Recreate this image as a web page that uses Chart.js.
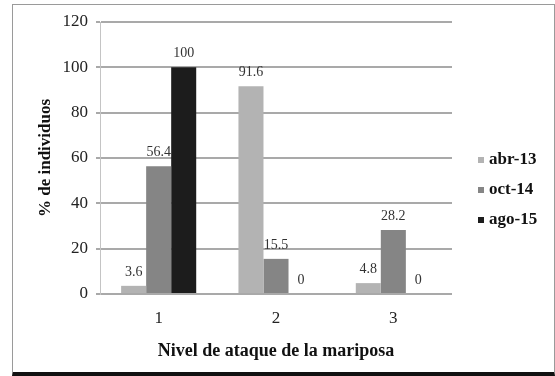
<!DOCTYPE html>
<html>
<head>
<meta charset="utf-8">
<script src="https://cdn.jsdelivr.net/npm/chart.js@4"></script>
<style>
  body { margin: 0; background: #fff; }
  .frame {
    position: absolute; left: 12px; top: 4px; width: 541px; height: 367px;
    border: 1px solid #9a9a9a; border-bottom: 4px solid #111;
  }
  #myChart { position: absolute; left: 0; top: 0; }
</style>
</head>
<body>
<div class="frame"></div>
<canvas id="myChart" width="555" height="376"></canvas>
<script>
const levels = ['1', '2', '3'];
const seriesNames = ['abr-13', 'oct-14', 'ago-15'];
const abr13 = [3.6, 91.6, 4.8];
const oct14 = [56.4, 15.5, 28.2];
const ago15 = [100, 0, 0];
const seriesColors = ['#b3b3b3', '#858585', '#1c1c1c'];
const yTicks = [0, 20, 40, 60, 80, 100, 120];

const serif = "'Liberation Serif', 'Times New Roman', serif";

// value printed above each bar
const valueLabels = {
  id: 'valueLabels',
  afterDatasetsDraw(chart) {
    const ctx = chart.ctx;
    ctx.save();
    ctx.font = '14px ' + serif;
    ctx.fillStyle = '#333';
    ctx.textAlign = 'center';
    ctx.textBaseline = 'bottom';
    chart.data.datasets.forEach((ds, i) => {
      chart.getDatasetMeta(i).data.forEach((bar, j) => {
        ctx.fillText(String(ds.data[j]), bar.x, bar.y - 7);
      });
    });
    ctx.restore();
  }
};

// small square legend on the right
const sideLegend = {
  id: 'sideLegend',
  afterDraw(chart) {
    const ctx = chart.ctx;
    ctx.save();
    ctx.font = 'bold 17px ' + serif;
    ctx.textBaseline = 'middle';
    chart.data.datasets.forEach((ds, i) => {
      const y = 160 + i * 30;
      ctx.fillStyle = ds.backgroundColor;
      ctx.fillRect(478, y - 3, 6, 6);
      ctx.fillStyle = '#111';
      ctx.fillText(ds.label, 489, y);
    });
    ctx.restore();
  }
};

const datasets = [abr13, oct14, ago15].map((values, i) => ({
  label: seriesNames[i],
  data: values,
  backgroundColor: seriesColors[i],
  barPercentage: 1,
  categoryPercentage: 0.64
}));

new Chart('myChart', {
  type: 'bar',
  data: { labels: levels, datasets: datasets },
  plugins: [valueLabels, sideLegend],
  options: {
    responsive: false,
    animation: false,
    layout: { padding: { top: 22, right: 103, bottom: 0, left: 0 } },
    plugins: {
      legend: { display: false },
      tooltip: { enabled: false }
    },
    scales: {
      x: {
        afterFit(scale) { scale.height = 82; },
        grid: { display: false, drawTicks: false },
        border: { display: false },
        ticks: { color: '#222', padding: 14, font: { size: 17, family: serif } },
        title: {
          display: true,
          text: 'Nivel de ataque de la mariposa',
          color: '#111',
          font: { size: 18, weight: 'bold', family: serif },
          padding: { top: 0, bottom: 14 }
        }
      },
      y: {
        min: 0,
        max: 120,
        afterFit(scale) { scale.width = 100; },
        afterBuildTicks(scale) { scale.ticks = yTicks.map(v => ({ value: v })); },
        grid: { color: '#a9a9a9', lineWidth: 2, tickLength: 4 },
        border: { display: true, color: '#c4c4c4', width: 1 },
        ticks: { color: '#222', padding: 8, font: { size: 17, family: serif } },
        title: {
          display: true,
          text: '% de individuos',
          color: '#111',
          font: { size: 17, weight: 'bold', family: serif },
          padding: { top: 35, bottom: 0 }
        }
      }
    }
  }
});
</script>
</body>
</html>
